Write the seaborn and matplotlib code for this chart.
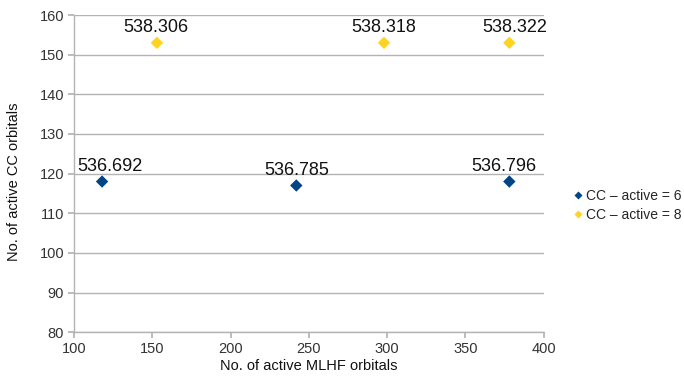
import matplotlib
matplotlib.use("Agg")
import matplotlib.pyplot as plt
import seaborn as sns
import pandas as pd

# Energies of active-space runs
series_names = ["CC – active = 6", "CC – active = 8"]
mlhf_cc6 = [118, 242, 378]
cc_cc6 = [118, 117, 118]
energy_cc6 = [536.692, 536.785, 536.796]
mlhf_cc8 = [153, 298, 378]
cc_cc8 = [153, 153, 153]
energy_cc8 = [538.306, 538.318, 538.322]

x_ticks = [100, 150, 200, 250, 300, 350, 400]
y_ticks = [80, 90, 100, 110, 120, 130, 140, 150, 160]

df = pd.DataFrame({
    "mlhf": mlhf_cc6 + mlhf_cc8,
    "cc": cc_cc6 + cc_cc8,
    "energy": energy_cc6 + energy_cc8,
    "series": [series_names[0]] * 3 + [series_names[1]] * 3,
})

# horizontal nudges (points) so the value labels stay clear of the axis and each other
label_nudge = [6, 0, -4, -1, 0, 4]

sns.set_theme(style="white")
plt.rcParams["font.family"] = ["Liberation Sans", "DejaVu Sans"]

fig = plt.figure(figsize=(6.84, 3.77), dpi=100)
ax = fig.add_axes([0.108, 0.119, 0.687, 0.841])

palette = {series_names[0]: "#004586", series_names[1]: "#ffd320"}
sns.scatterplot(data=df, x="mlhf", y="cc", hue="series", palette=palette,
                marker="D", s=40, edgecolor="none", ax=ax, zorder=3)

for xv, yv, ev, dx in zip(df["mlhf"], df["cc"], df["energy"], label_nudge):
    ax.annotate(f"{ev:.3f}", (xv, yv), xytext=(dx, 5), textcoords="offset points",
                ha="center", va="bottom", fontsize=13, color="#111111", zorder=4)

ax.set_xlim(100, 400)
ax.set_ylim(80, 160)
ax.set_xticks(x_ticks)
ax.set_yticks(y_ticks)
ax.grid(axis="y", color="#b3b3b3", linewidth=1)
ax.set_axisbelow(True)
for side in ["top", "right"]:
    ax.spines[side].set_visible(False)
for side in ["left", "bottom"]:
    ax.spines[side].set_color("#b3b3b3")
    ax.spines[side].set_linewidth(1)
ax.tick_params(axis="both", length=4, color="#b3b3b3", labelsize=10.5,
               labelcolor="#333333", direction="out", bottom=True, left=True,
               pad=3)

ax.set_xlabel("No. of active MLHF orbitals", fontsize=10.5, color="#111111", labelpad=2)
ax.set_ylabel("No. of active CC orbitals", fontsize=10.5, color="#111111")
ax.yaxis.set_label_coords(-0.112, 0.475)

ax.legend(loc="center left", bbox_to_anchor=(1.063, 0.40), frameon=False,
          fontsize=10, handlelength=0.6, handletextpad=0.3, markerscale=0.65,
          borderaxespad=0, borderpad=0, labelspacing=0.4)

fig.savefig("out.png", dpi=100)
